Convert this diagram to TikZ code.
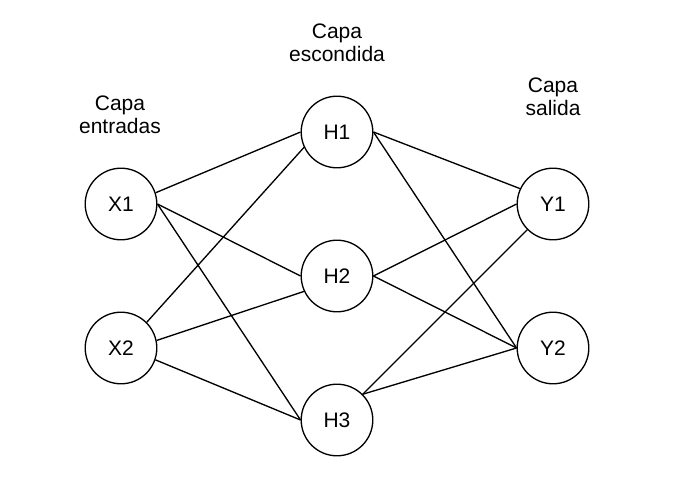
\documentclass[tikz,border=0pt]{standalone}
\usepackage{fontspec}
\setmainfont{Liberation Sans}

\begin{document}
\begin{tikzpicture}[x=0.75pt,y=-0.75pt,line width=1pt,
  font=\fontsize{15.75}{17.8}\selectfont,
  neuron/.style={draw,circle,inner sep=0pt,minimum size=53.7pt},
  layername/.style={align=center,inner sep=0pt}]
\useasboundingbox (0,0) rectangle (691,477);
\node[layername] (capaX) at (120,114.9) {Capa\\entradas};
\node[layername] (capaH) at (337,42.9) {Capa\\escondida};
\node[layername] (capaY) at (553,96.9) {Capa\\salida};
\node[neuron] (X1) at (121,204) {X1};
\node[neuron] (X2) at (121,348) {X2};
\node[neuron] (H1) at (337,132) {H1};
\node[neuron] (H2) at (337,276) {H2};
\node[neuron] (H3) at (337,420) {H3};
\node[neuron] (Y1) at (553,204) {Y1};
\node[neuron] (Y2) at (553,348) {Y2};
\draw (X1.18) -- (H1.west);
\draw (X1.east) -- (H2.west);
\draw (X1.east) -- (H3.west);
\draw (X2.45) -- (H1.205);
\draw (X2.12) -- (H2.205);
\draw (X2.-19) -- (H3.west);
\draw (H1.east) -- (Y1.155);
\draw (H1.east) -- (Y2.west);
\draw (H2.east) -- (Y1.west);
\draw (H2.east) -- (Y2.west);
\draw (H3) -- (Y1);
\draw (H3.45) -- (Y2.west);
\end{tikzpicture}
\end{document}
